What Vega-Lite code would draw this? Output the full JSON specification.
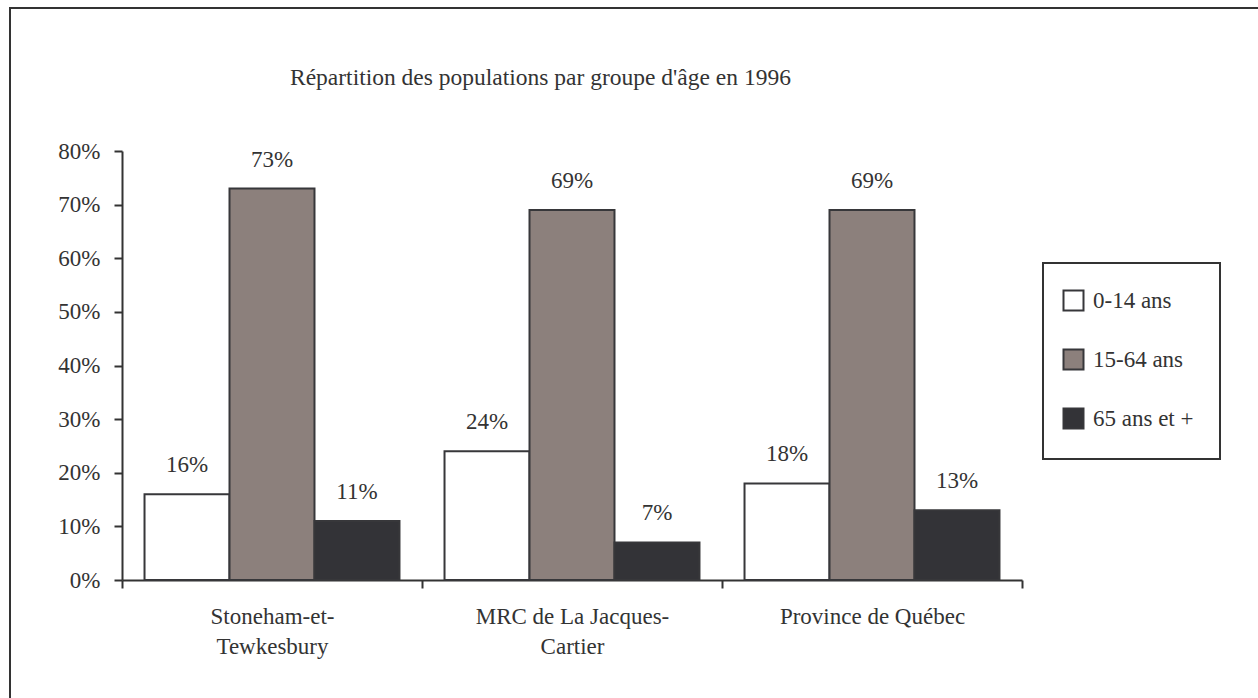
{
  "$schema": "https://vega.github.io/schema/vega-lite/v6.json",
  "autosize": {"type": "none"},
  "padding": {"left": 10, "top": 8, "right": -3, "bottom": -3},
  "width": 1251,
  "height": 693,
  "background": "#ffffff",
  "title": {
    "text": "Répartition des populations par groupe d'âge en 1996",
    "anchor": "start",
    "frame": "group",
    "dx": 280,
    "offset": -81,
    "font": "Liberation Serif",
    "fontSize": 23.5,
    "fontWeight": "normal",
    "color": "#333333"
  },
  "config": {
    "view": {"stroke": "#333333", "strokeWidth": 2},
    "font": "Liberation Serif",
    "legend": {"strokeWidth": 2},
    "axis": {
      "domainColor": "#333333",
      "domainWidth": 2,
      "tickColor": "#333333",
      "tickWidth": 2,
      "tickSize": 8,
      "labelFont": "Liberation Serif",
      "labelFontSize": 23,
      "labelColor": "#333333",
      "grid": false,
      "title": null
    }
  },
  "data": {
    "values": [
      {"lieu": "Stoneham-et-Tewkesbury", "groupe": "0-14 ans", "part": 0.16},
      {"lieu": "Stoneham-et-Tewkesbury", "groupe": "15-64 ans", "part": 0.73},
      {"lieu": "Stoneham-et-Tewkesbury", "groupe": "65 ans et +", "part": 0.11},
      {"lieu": "MRC de La Jacques-Cartier", "groupe": "0-14 ans", "part": 0.24},
      {"lieu": "MRC de La Jacques-Cartier", "groupe": "15-64 ans", "part": 0.69},
      {"lieu": "MRC de La Jacques-Cartier", "groupe": "65 ans et +", "part": 0.07},
      {"lieu": "Province de Québec", "groupe": "0-14 ans", "part": 0.18},
      {"lieu": "Province de Québec", "groupe": "15-64 ans", "part": 0.69},
      {"lieu": "Province de Québec", "groupe": "65 ans et +", "part": 0.13}
    ]
  },
  "encoding": {
    "x": {
      "field": "lieu",
      "type": "nominal",
      "sort": ["Stoneham-et-Tewkesbury", "MRC de La Jacques-Cartier", "Province de Québec"],
      "scale": {"paddingInner": 0, "paddingOuter": 0, "range": [112, 1012]},
      "axis": {
        "offset": -121,
        "labelAngle": 0,
        "tickBand": "extent",
        "labelPadding": 17,
        "labelLimit": 0,
        "labelLineHeight": 30,
        "labelExpr": "datum.value == 'Stoneham-et-Tewkesbury' ? ['Stoneham-et-', 'Tewkesbury'] : datum.value == 'MRC de La Jacques-Cartier' ? ['MRC de La Jacques-', 'Cartier'] : datum.label"
      }
    },
    "xOffset": {
      "field": "groupe",
      "type": "nominal",
      "sort": ["0-14 ans", "15-64 ans", "65 ans et +"],
      "scale": {"paddingInner": 0, "paddingOuter": 0.265}
    },
    "y": {
      "field": "part",
      "type": "quantitative",
      "scale": {"domain": [0, 0.8], "nice": false, "range": [572, 143]},
      "axis": {
        "offset": -112,
        "values": [0, 0.1, 0.2, 0.3, 0.4, 0.5, 0.6, 0.7, 0.8],
        "format": ".0%",
        "labelPadding": 14
      }
    }
  },
  "layer": [
    {
      "mark": {"type": "bar", "stroke": "#37373a", "strokeWidth": 2},
      "encoding": {
        "fill": {
          "field": "groupe",
          "type": "nominal",
          "sort": ["0-14 ans", "15-64 ans", "65 ans et +"],
          "scale": {
            "domain": ["0-14 ans", "15-64 ans", "65 ans et +"],
            "range": ["#ffffff", "#8c807c", "#333337"]
          },
          "legend": {
            "title": null,
            "orient": "none",
            "legendX": 1033,
            "legendY": 255,
            "padding": 26,
            "symbolOffset": -7,
            "strokeColor": "#333333",
            "fillColor": "#ffffff",
            "symbolType": "square",
            "symbolSize": 400,
            "symbolStrokeColor": "#37373a",
            "symbolStrokeWidth": 2,
            "labelFont": "Liberation Serif",
            "labelFontSize": 23,
            "labelColor": "#333333",
            "labelOffset": 8,
            "rowPadding": 30,
            "labelLimit": 0
          }
        }
      }
    },
    {
      "mark": {
        "type": "text",
        "dy": -29,
        "baseline": "middle",
        "font": "Liberation Serif",
        "fontSize": 23,
        "color": "#333333"
      },
      "encoding": {
        "text": {"field": "part", "type": "quantitative", "format": ".0%"}
      }
    }
  ]
}
